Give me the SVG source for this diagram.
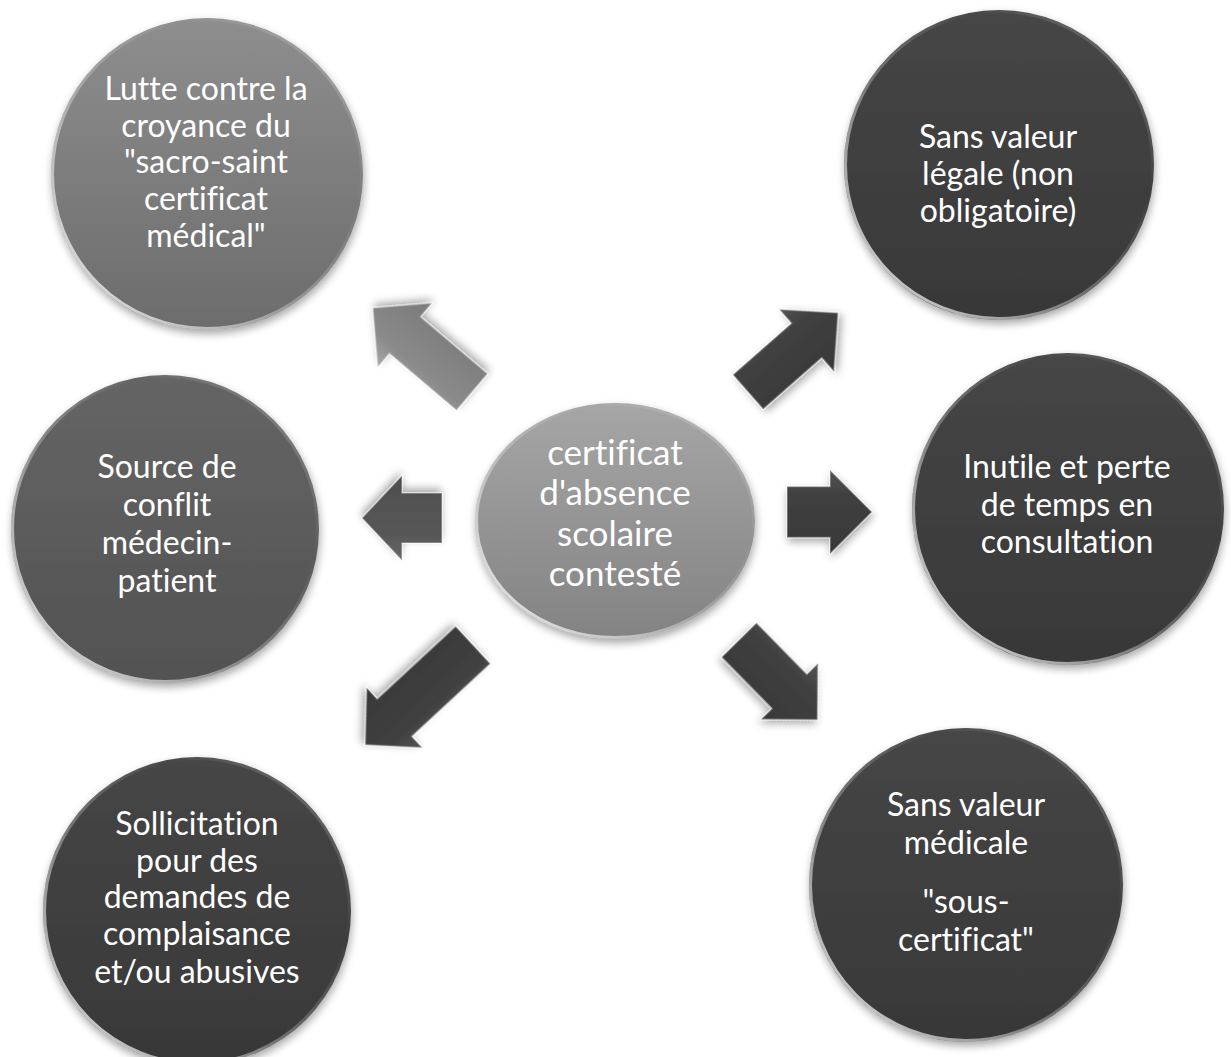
<svg xmlns="http://www.w3.org/2000/svg" width="1231" height="1057" viewBox="0 0 1231 1057">
<style>
.lbl{font-family:Lato,"Liberation Sans",sans-serif;font-size:32px;fill:#ffffff;text-anchor:middle;font-variant-ligatures:none;font-feature-settings:"liga" 0,"clig" 0}
.big{font-size:35px}
.rim{fill:none;stroke:url(#rimG);stroke-width:3}
.arr{stroke:#ffffff;stroke-opacity:0.35;stroke-width:1.5;stroke-linejoin:miter;filter:url(#sh)}
</style>
<defs>
<filter id="sh" x="-20%" y="-20%" width="140%" height="150%">
<feGaussianBlur in="SourceAlpha" stdDeviation="4"/>
<feOffset dx="1" dy="4" result="b"/>
<feComponentTransfer><feFuncA type="linear" slope="0.35"/></feComponentTransfer>
<feMerge><feMergeNode/><feMergeNode in="SourceGraphic"/></feMerge>
</filter>
<linearGradient id="rimG" x1="0" y1="1" x2="1" y2="0">
<stop offset="0" stop-color="#ffffff" stop-opacity="0.9"/>
<stop offset="0.45" stop-color="#ffffff" stop-opacity="0.25"/>
<stop offset="0.7" stop-color="#ffffff" stop-opacity="0"/>
<stop offset="1" stop-color="#ffffff" stop-opacity="0.3"/>
</linearGradient>
<linearGradient id="gLight" x1="0" y1="0" x2="0" y2="1">
<stop offset="0" stop-color="#8e8e8e"/><stop offset="1" stop-color="#6c6c6c"/>
</linearGradient>
<linearGradient id="gMid" x1="0" y1="0" x2="0" y2="1">
<stop offset="0" stop-color="#656565"/><stop offset="1" stop-color="#525252"/>
</linearGradient>
<linearGradient id="gDark" x1="0" y1="0" x2="0" y2="1">
<stop offset="0" stop-color="#464646"/><stop offset="1" stop-color="#383838"/>
</linearGradient>
<linearGradient id="gCenter" x1="0" y1="0" x2="0" y2="1">
<stop offset="0" stop-color="#a6a6a6"/><stop offset="1" stop-color="#838383"/>
</linearGradient>
<linearGradient id="aLight" x1="0" y1="0" x2="0" y2="1">
<stop offset="0" stop-color="#a8a8a8"/><stop offset="0.3" stop-color="#8a8a8a"/><stop offset="1" stop-color="#7a7a7a"/>
</linearGradient>
<linearGradient id="aMid" x1="0" y1="0" x2="0" y2="1">
<stop offset="0" stop-color="#6a6a6a"/><stop offset="0.3" stop-color="#575757"/><stop offset="1" stop-color="#4e4e4e"/>
</linearGradient>
<linearGradient id="aDark" x1="0" y1="0" x2="0" y2="1">
<stop offset="0" stop-color="#555555"/><stop offset="0.3" stop-color="#404040"/><stop offset="1" stop-color="#383838"/>
</linearGradient>
</defs>
<rect width="1231" height="1057" fill="#ffffff"/>

<g id="connectors">
<path class="arr" fill="url(#aLight)" transform="translate(472,392) rotate(220.3)" d="M0,-24 L88,-24 L88,-42 L130,0 L88,42 L88,24 L0,24 Z"/>
<path class="arr" fill="url(#aDark)" transform="translate(748,392) rotate(-41.3)" d="M0,-23 L78,-23 L78,-41.5 L120,0 L78,41.5 L78,23 L0,23 Z"/>
<path class="arr" fill="url(#aMid)" transform="translate(442,518) rotate(180)" d="M0,-25 L40,-25 L40,-42.5 L80,0 L40,42.5 L40,25 L0,25 Z"/>
<path class="arr" fill="url(#aDark)" transform="translate(787,512)" d="M0,-25.5 L43,-25.5 L43,-42 L85,0 L43,42 L43,25.5 L0,25.5 Z"/>
<path class="arr" fill="url(#aDark)" transform="translate(473,645) rotate(137.2)" d="M0,-25.5 L107,-25.5 L107,-41 L147,0 L107,41 L107,25.5 L0,25.5 Z"/>
<path class="arr" fill="url(#aDark)" transform="translate(739,640) rotate(45.5)" d="M0,-24.5 L72,-24.5 L72,-40 L112,0 L72,40 L72,24.5 L0,24.5 Z"/>
</g>

<g id="center">
<ellipse cx="615" cy="521" rx="140" ry="118" fill="url(#gCenter)" filter="url(#sh)"/>
<ellipse class="rim" cx="615" cy="521" rx="138.5" ry="116.5"/>
<text class="lbl big" x="615" y="465">certificat</text>
<text class="lbl big" x="615" y="505">d'absence</text>
<text class="lbl big" x="615" y="546">scolaire</text>
<text class="lbl big" x="615" y="586">contesté</text>
</g>

<g id="node-lutte">
<circle cx="207" cy="174" r="156" fill="url(#gLight)" filter="url(#sh)"/>
<circle class="rim" cx="207" cy="174" r="154.5"/>
<text class="lbl" x="206" y="100">Lutte contre la</text>
<text class="lbl" x="206" y="137">croyance du</text>
<text class="lbl" x="206" y="173">"sacro-saint</text>
<text class="lbl" x="206" y="210">certificat</text>
<text class="lbl" x="206" y="247">médical"</text>
</g>

<g id="node-legale">
<circle cx="999" cy="165" r="155" fill="url(#gDark)" filter="url(#sh)"/>
<circle class="rim" cx="999" cy="165" r="153.5"/>
<text class="lbl" x="998" y="148">Sans valeur</text>
<text class="lbl" x="998" y="185">légale (non</text>
<text class="lbl" x="998" y="222">obligatoire)</text>
</g>

<g id="node-conflit">
<circle cx="165" cy="529" r="154" fill="url(#gMid)" filter="url(#sh)"/>
<circle class="rim" cx="165" cy="529" r="152.5"/>
<text class="lbl" x="167" y="478">Source de</text>
<text class="lbl" x="167" y="516">conflit</text>
<text class="lbl" x="167" y="554">médecin-</text>
<text class="lbl" x="167" y="592">patient</text>
</g>

<g id="node-inutile">
<circle cx="1068" cy="509" r="156" fill="url(#gDark)" filter="url(#sh)"/>
<circle class="rim" cx="1068" cy="509" r="154.5"/>
<text class="lbl" x="1067" y="478">Inutile et perte</text>
<text class="lbl" x="1067" y="516">de temps en</text>
<text class="lbl" x="1067" y="553">consultation</text>
</g>

<g id="node-sollicitation">
<circle cx="197" cy="911" r="154" fill="url(#gDark)" filter="url(#sh)"/>
<circle class="rim" cx="197" cy="911" r="152.5"/>
<text class="lbl" x="197" y="835">Sollicitation</text>
<text class="lbl" x="197" y="872">pour des</text>
<text class="lbl" x="197" y="908">demandes de</text>
<text class="lbl" x="197" y="945">complaisance</text>
<text class="lbl" x="197" y="983">et/ou abusives</text>
</g>

<g id="node-medicale">
<circle cx="966" cy="885" r="157" fill="url(#gDark)" filter="url(#sh)"/>
<circle class="rim" cx="966" cy="885" r="155.5"/>
<text class="lbl" x="966" y="816">Sans valeur</text>
<text class="lbl" x="966" y="854">médicale</text>
<text class="lbl" x="966" y="913">"sous-</text>
<text class="lbl" x="966" y="951">certificat"</text>
</g>
</svg>
